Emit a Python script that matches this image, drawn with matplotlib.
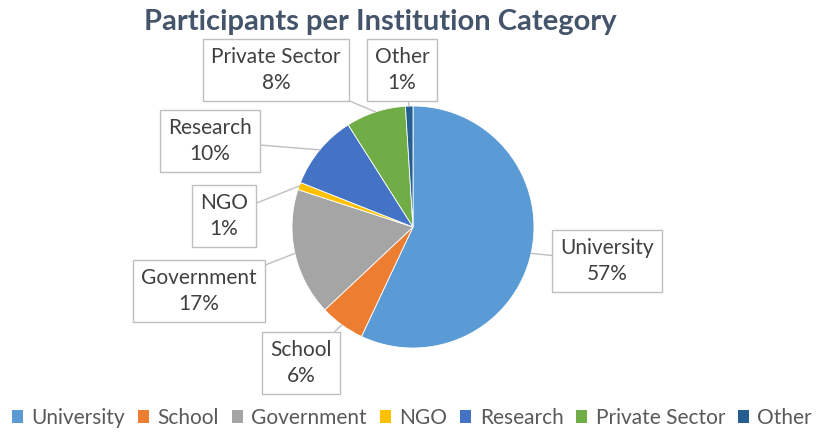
import numpy as np
import matplotlib.pyplot as plt
from matplotlib.patches import Patch

plt.rcParams['font.family'] = ['Lato', 'DejaVu Sans']

categories = ['University', 'School', 'Government', 'NGO', 'Research', 'Private Sector', 'Other']
shares = [57, 6, 17, 1, 10, 8, 1]
colors = ['#5B9BD5', '#ED7D31', '#A5A5A5', '#FFC000', '#4472C4', '#70AD47', '#255E91']
# label box centres in pixels (x, y from top)
label_pos = [(607, 261), (301, 363), (199, 291), (224, 216), (210, 141), (276, 70), (402, 70)]

W, H = 824, 432
cx, cy, r = 413, H - 227, 121

fig = plt.figure(figsize=(W / 100, H / 100), dpi=100)
ax = fig.add_axes([0, 0, 1, 1])

wedges, _ = ax.pie(shares, colors=colors, startangle=90, counterclock=False,
                   center=(cx, cy), radius=r, frame=True,
                   wedgeprops=dict(edgecolor='white', linewidth=0.6))

for w, name, val, pos in zip(wedges, categories, shares, label_pos):
    ang = np.deg2rad((w.theta1 + w.theta2) / 2)
    px = cx + r * np.cos(ang)
    py = cy + r * np.sin(ang)
    ax.annotate(f'{name}\n{val}%', xy=(px, py), xytext=(pos[0], H - pos[1]),
                ha='center', va='center', fontsize=15, color='#404040',
                linespacing=1.4,
                bbox=dict(boxstyle='square,pad=0.38', fc='white', ec='#BFBFBF', lw=1),
                arrowprops=dict(arrowstyle='-', color='#BFBFBF', lw=1,
                                shrinkA=0, shrinkB=0))

ax.set_xlim(0, W)
ax.set_ylim(0, H)
ax.set_aspect('equal')
ax.axis('off')

fig.text(380 / W, 1 - 22 / H, 'Participants per Institution Category',
         ha='center', va='center', fontsize=21, fontweight='bold', color='#44546A')

handles = [Patch(facecolor=c, edgecolor='none') for c in colors]
fig.legend(handles, categories, loc='center', bbox_to_anchor=(0.5, 1 - 418 / H),
           ncol=7, frameon=False, fontsize=15, labelcolor='#595959',
           handlelength=0.55, handleheight=0.55, handletextpad=0.4,
           columnspacing=0.6)

fig.savefig('out.png', dpi=100)
